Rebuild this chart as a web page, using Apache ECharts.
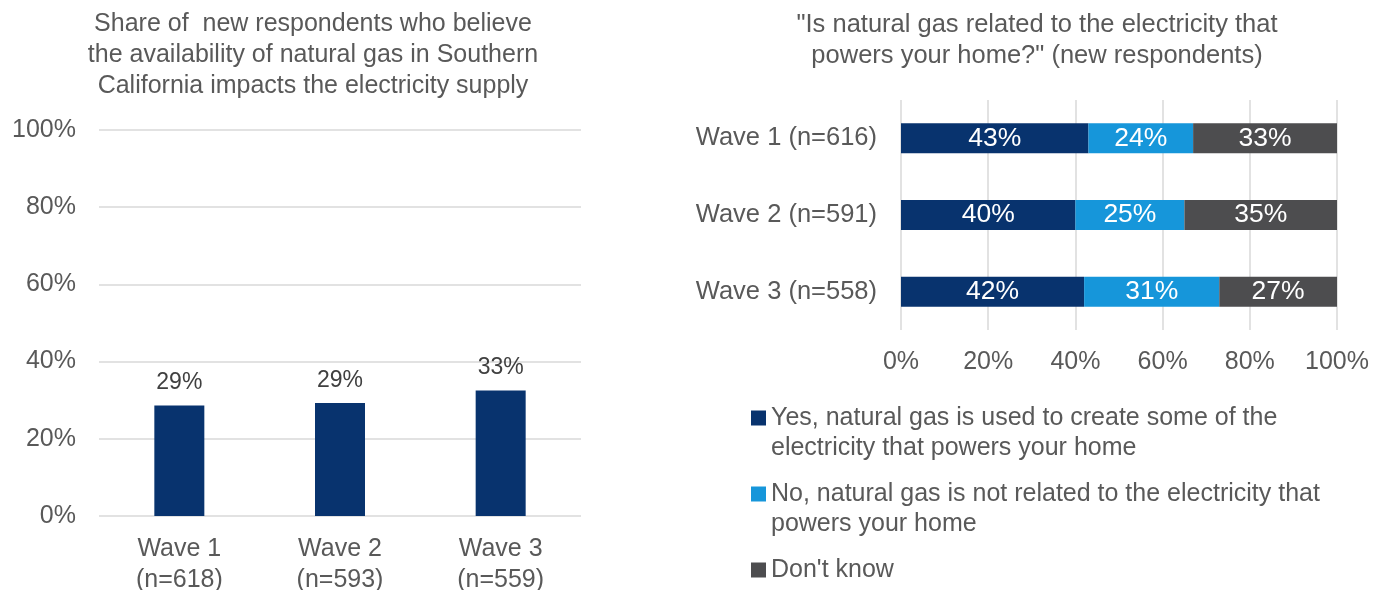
<!DOCTYPE html>
<html>
<head>
<meta charset="utf-8">
<script src="https://cdn.jsdelivr.net/npm/echarts@6/dist/echarts.min.js"></script>
<style>
  html, body { margin: 0; padding: 0; background: #ffffff; }
  #chart { width: 1386px; height: 590px; }
</style>
</head>
<body>
<div id="chart"></div>
<script>
// Left panel: share who believe gas availability affects electricity supply
const waveLabels = ['Wave 1\n(n=618)', 'Wave 2\n(n=593)', 'Wave 3\n(n=559)'];
const shareBelieve = [28.6, 29.3, 32.5];

// Right panel: "Is natural gas related to the electricity that powers your home?"
const relatedCategories = ['Wave 1 (n=616)', 'Wave 2 (n=591)', 'Wave 3 (n=558)'];
const yesUsed = [43, 40, 42];
const notRelated = [24, 25, 31];
const dontKnow = [33, 35, 27];
const answerNames = [
  'Yes, natural gas is used to create some of the\nelectricity that powers your home',
  'No, natural gas is not related to the electricity that\npowers your home',
  "Don't know"
];

const leftTitle = 'Share of  new respondents who believe\nthe availability of natural gas in Southern\nCalifornia impacts the electricity supply';
const rightTitle = '"Is natural gas related to the electricity that\npowers your home?" (new respondents)';

const FONT = "'Liberation Sans', Arial, sans-serif";
const TEXT = '#595959';
const GRIDLINE = '#D9D9D9';
const NAVY = '#08336E';
const SKY = '#1696DA';
const GREY = '#4D4D4F';

const pct = v => Math.round(v) + '%';

// One legend block per answer; two-line entries get a leading blank line
// so the swatch sits beside the first line of text.
function legendFor(name, top, twoLines) {
  return {
    data: [name],
    left: 751,
    top: top,
    orient: 'vertical',
    padding: 0,
    icon: 'rect',
    itemWidth: 15,
    itemHeight: 15,
    itemGap: 0,
    formatter: n => (twoLines ? '\n' + n : n),
    textStyle: {
      fontFamily: FONT,
      fontSize: 25,
      lineHeight: 30,
      color: TEXT
    }
  };
}

const option = {
  animation: false,
  backgroundColor: '#ffffff',
  textStyle: { fontFamily: FONT },
  title: [
    {
      text: leftTitle,
      left: 313,
      top: 9,
      textAlign: 'center',
      padding: 0,
      textStyle: { fontFamily: FONT, fontSize: 25, lineHeight: 31, color: TEXT, fontWeight: 'normal' }
    },
    {
      text: rightTitle,
      left: 1037,
      top: 9,
      textAlign: 'center',
      padding: 0,
      textStyle: { fontFamily: FONT, fontSize: 25.5, lineHeight: 31, color: TEXT, fontWeight: 'normal' }
    }
  ],
  legend: [
    legendFor(answerNames[0], 373, true),
    legendFor(answerNames[1], 449, true),
    legendFor(answerNames[2], 555, false)
  ],
  grid: [
    { left: 99, width: 482, top: 130, height: 386, outerBoundsMode: 'none' },
    { left: 901, width: 436, top: 100, height: 230, outerBoundsMode: 'none' }
  ],
  xAxis: [
    {
      gridIndex: 0,
      type: 'category',
      data: waveLabels,
      axisLine: { show: false },
      axisTick: { show: false },
      axisLabel: { color: TEXT, fontFamily: FONT, fontSize: 25, lineHeight: 31, margin: 18 }
    },
    {
      gridIndex: 1,
      type: 'value',
      min: 0,
      max: 100,
      interval: 20,
      axisLine: { show: false },
      axisTick: { show: false },
      axisLabel: { formatter: '{value}%', color: TEXT, fontFamily: FONT, fontSize: 25, margin: 20 },
      splitLine: { show: true, lineStyle: { color: GRIDLINE, width: 1.5 } }
    }
  ],
  yAxis: [
    {
      gridIndex: 0,
      type: 'value',
      min: 0,
      max: 100,
      interval: 20,
      axisLine: { show: false },
      axisTick: { show: false },
      axisLabel: { formatter: '{value}%', color: TEXT, fontFamily: FONT, fontSize: 25, margin: 23 },
      splitLine: { show: true, lineStyle: { color: GRIDLINE, width: 1.5 } }
    },
    {
      gridIndex: 1,
      type: 'category',
      data: relatedCategories,
      inverse: true,
      axisLine: { show: false },
      axisTick: { show: false },
      axisLabel: { color: TEXT, fontFamily: FONT, fontSize: 25.5, margin: 24 }
    }
  ],
  series: [
    {
      name: 'Believe supply impacted',
      type: 'bar',
      xAxisIndex: 0,
      yAxisIndex: 0,
      data: shareBelieve,
      barWidth: 50,
      itemStyle: { color: NAVY },
      label: {
        show: true,
        position: 'top',
        distance: 11,
        color: '#404040',
        fontFamily: FONT,
        fontSize: 23,
        formatter: p => pct(p.value)
      }
    },
    ...[yesUsed, notRelated, dontKnow].map((values, i) => ({
      name: answerNames[i],
      type: 'bar',
      stack: 'answers',
      xAxisIndex: 1,
      yAxisIndex: 1,
      data: values,
      barWidth: 30,
      itemStyle: { color: [NAVY, SKY, GREY][i] },
      label: {
        show: true,
        position: 'inside',
        color: '#ffffff',
        fontFamily: FONT,
        fontSize: 26.5,
        formatter: p => pct(p.value)
      }
    }))
  ]
};

const chart = echarts.init(document.getElementById('chart'), null, { renderer: 'canvas' });
chart.setOption(option);
</script>
</body>
</html>
